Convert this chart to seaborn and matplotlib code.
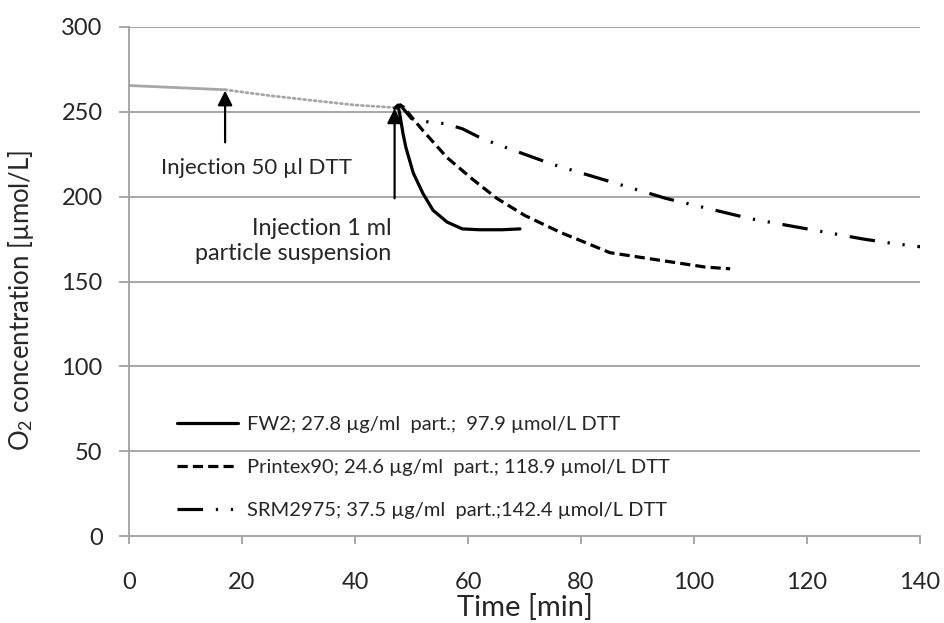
import matplotlib
matplotlib.use("Agg")
import matplotlib.pyplot as plt
import seaborn as sns
import pandas as pd

# ---- data ----
base_t = [0, 17]
base_v = [265.5, 263]
dtt_t = [17, 25, 33, 40, 47]
dtt_v = [263, 259.5, 256.5, 254, 252.5]

fw2_t = [47.0, 47.6, 48.0, 48.5, 49.0, 50.3, 52.0, 53.8, 56.3, 59.0, 62.0, 66.0, 69.2]
fw2_v = [252, 254, 247, 237, 229, 214, 202, 192, 185, 181, 180.5, 180.5, 181]

ptx_t = [47.2, 48.0, 48.5, 52.0, 56.3, 60.9, 65.1, 70.0, 76.3, 80.0, 85.1, 91.0, 97.0, 102.0, 106.4]
ptx_v = [252, 254, 253, 239, 223, 210, 199, 189, 179, 174, 167, 164, 161, 158.5, 157.5]

srm_t = [47.2, 48.0, 50.0, 53.0, 56.0, 59.0, 62.0, 65.0, 70.0, 75.0, 80.0, 85.0, 90.0, 95.0,
         100.0, 105.0, 110.0, 115.0, 120.0, 125.0, 130.0, 135.0, 140.0, 142.0]
srm_v = [252, 254, 246, 244, 243, 240, 235, 231, 225, 219, 214, 209, 204, 199,
         195, 191, 187, 184, 181, 178, 175, 172.5, 170.5, 170]

labels = ["FW2; 27.8 µg/ml  part.;  97.9 µmol/L DTT",
          "Printex90; 24.6 µg/ml  part.; 118.9 µmol/L DTT",
          "SRM2975; 37.5 µg/ml  part.;142.4 µmol/L DTT"]
x_ticks = [0, 20, 40, 60, 80, 100, 120, 140]
y_ticks = [0, 50, 100, 150, 200, 250, 300]

# ---- style ----
sns.set_theme(style="white")
plt.rcParams['font.family'] = ['Lato', 'DejaVu Sans']
plt.rcParams['mathtext.fontset'] = 'custom'
plt.rcParams['mathtext.rm'] = 'Lato'
plt.rcParams['mathtext.it'] = 'Lato:italic'

fig = plt.figure(figsize=(9.44, 6.23), dpi=100)
ax = fig.add_axes([0.1367, 0.1396, 0.8379, 0.8171])

grid_c = '#a0a0a0'
for yv in y_ticks[1:]:
    ax.axhline(yv, color=grid_c, lw=1.3, zorder=0)

def df(t, v):
    return pd.DataFrame({"t": t, "v": v})

sns.lineplot(data=df(base_t, base_v), x="t", y="v", ax=ax, color='#a6a6a6', lw=2.0,
             sort=False, estimator=None)
sns.lineplot(data=df(dtt_t, dtt_v), x="t", y="v", ax=ax, color='#a6a6a6', lw=2.0,
             sort=False, estimator=None)
ax.lines[-1].set_dashes((0.7, 1.2))
ax.lines[-1].set_dash_capstyle('round')

sns.lineplot(data=df(fw2_t, fw2_v), x="t", y="v", ax=ax, color='black', lw=2.3,
             sort=False, estimator=None, label=labels[0])
sns.lineplot(data=df(ptx_t, ptx_v), x="t", y="v", ax=ax, color='black', lw=2.3,
             sort=False, estimator=None, label=labels[1])
ax.lines[-1].set_dashes((3.2, 1.6))
sns.lineplot(data=df(srm_t, srm_v), x="t", y="v", ax=ax, color='black', lw=2.3,
             sort=False, estimator=None, label=labels[2])
ax.lines[-1].set_dashes((8, 4, 0.7, 4, 0.7, 4))

ax.set_xlim(0, 140)
ax.set_ylim(0, 300)
ax.set_xticks(x_ticks)
ax.set_yticks(y_ticks)
ax.set_xticklabels([str(v) for v in x_ticks])
ax.set_yticklabels([str(v) for v in y_ticks])

for s in ['top', 'right']:
    ax.spines[s].set_visible(False)
for s in ['left', 'bottom']:
    ax.spines[s].set_color(grid_c)
    ax.spines[s].set_linewidth(1.3)

ax.tick_params(axis='x', which='both', direction='out', length=6, width=1.3, color=grid_c,
               labelsize=17, pad=20, bottom=True)
ax.tick_params(axis='y', which='both', direction='out', length=7, width=1.3, color=grid_c,
               labelsize=17, pad=12, left=True)

ax.set_xlabel("Time [min]", fontsize=21)
ax.xaxis.set_label_coords(0.5, -0.113)
ax.set_ylabel(r"O$_2$ concentration [µmol/L]", fontsize=18.5)
ax.yaxis.set_label_coords(-0.118, 0.4637)

# annotations
arrow_kw = dict(arrowstyle='-|>', color='black', lw=1.6, mutation_scale=22, shrinkA=0, shrinkB=0)
ax.annotate("", xy=(17, 262.5), xytext=(17, 232), arrowprops=arrow_kw)
ax.annotate("", xy=(47, 252), xytext=(47, 199), arrowprops=arrow_kw)
ax.text(22.5, 217, "Injection 50 µl DTT", fontsize=16, ha='center', va='center')
ax.text(46.4, 174, "Injection 1 ml\nparticle suspension", fontsize=16.8, ha='right',
        va='center', multialignment='right', linespacing=1.25)

leg = ax.legend(loc='center left', bbox_to_anchor=(0.061, 0.134), frameon=False,
                fontsize=14.5, handlelength=3.0, handletextpad=0.45, labelspacing=1.28,
                borderaxespad=0, borderpad=0)

fig.savefig("out.png", dpi=100)
